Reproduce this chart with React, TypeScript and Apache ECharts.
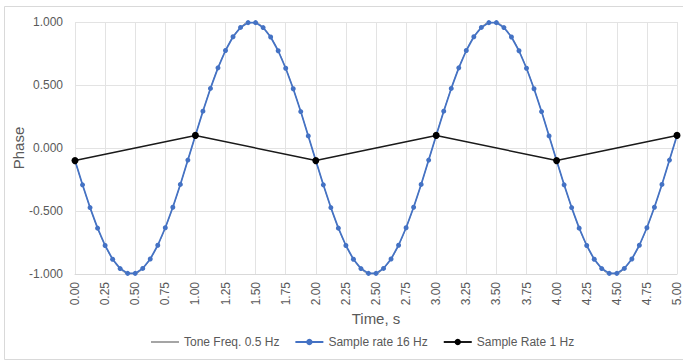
import React, { useEffect, useRef } from "react";
import * as echarts from "echarts";

// Sample times for the 16 Hz series (s)
const sampleTimes16: number[] = Array.from({ length: 81 }, (_, i) => i / 16);
// Values (Sample rate 16 Hz)
const sample16Values: number[] = [
  -0.1, -0.292, -0.473, -0.636, -0.774, -0.883, -0.957, -0.995, -0.995, -0.956, -0.881, -0.772, -0.633, -0.47, -0.289, -0.096,
  0.1, 0.292, 0.473, 0.636, 0.774, 0.883, 0.957, 0.995, 0.995, 0.956, 0.881, 0.772, 0.633, 0.47, 0.289, 0.096,
  -0.1, -0.292, -0.473, -0.636, -0.774, -0.883, -0.957, -0.995, -0.995, -0.956, -0.881, -0.772, -0.633, -0.47, -0.289, -0.096,
  0.1, 0.292, 0.473, 0.636, 0.774, 0.883, 0.957, 0.995, 0.995, 0.956, 0.881, 0.772, 0.633, 0.47, 0.289, 0.096,
  -0.1, -0.292, -0.473, -0.636, -0.774, -0.883, -0.957, -0.995, -0.995, -0.956, -0.881, -0.772, -0.633, -0.47, -0.289, -0.096,
  0.1,
];
// Tone (continuous) drawn beneath, same trace
const toneValues: number[] = sample16Values;

// Sample Rate 1 Hz
const sampleTimes1: number[] = [0, 1, 2, 3, 4, 5];
const sample1Values: number[] = [-0.1, 0.1, -0.1, 0.1, -0.1, 0.1];

const seriesNames = ["Tone Freq. 0.5 Hz", "Sample rate 16 Hz", "Sample Rate 1 Hz"];

export default function App() {
  const ref = useRef<HTMLDivElement>(null);
  useEffect(() => {
    if (!ref.current) return;
    const chart = echarts.init(ref.current, undefined, { renderer: "svg" });
    const font = "'Liberation Sans', Arial, sans-serif";
    chart.setOption({
      animation: false,
      textStyle: { fontFamily: font },
      graphic: [
        {
          type: "rect",
          shape: { x: 4.5, y: 6.5, width: 690, height: 353 },
          style: { fill: "none", stroke: "#d9d9d9", lineWidth: 1 },
          silent: true,
        },
      ],
      grid: { left: 75, right: 6, top: 22, bottom: 87, containLabel: false, outerBoundsMode: "none" },
      legend: {
        left: 145,
        top: 331,
        itemWidth: 28,
        itemHeight: 8,
        itemGap: 15,
        textStyle: { color: "#595959", fontSize: 12, fontFamily: font },
        data: [
          { name: seriesNames[0], itemStyle: { opacity: 0 } },
          { name: seriesNames[1] },
          { name: seriesNames[2] },
        ],
      },
      xAxis: {
        type: "value",
        min: 0,
        max: 5,
        interval: 0.25,
        name: "Time, s",
        nameLocation: "middle",
        nameGap: 37,
        nameMoveOverlap: false,
        nameTextStyle: { color: "#595959", fontSize: 15, fontFamily: font },
        axisLine: { show: true, onZero: false, lineStyle: { color: "#d9d9d9" } },
        axisTick: { show: false },
        axisLabel: {
          rotate: 90,
          margin: 8,
          color: "#595959",
          fontSize: 12,
          formatter: (v: number) => v.toFixed(2),
        },
        splitLine: { show: true, lineStyle: { color: "#e3e3e3" } },
      },
      yAxis: {
        type: "value",
        min: -1,
        max: 1,
        interval: 0.5,
        name: "Phase",
        nameLocation: "middle",
        nameGap: 49,
        nameMoveOverlap: false,
        nameTextStyle: { color: "#595959", fontSize: 15, fontFamily: font },
        axisLine: { show: false },
        axisTick: { show: false },
        axisLabel: {
          color: "#595959",
          fontSize: 12,
          margin: 12,
          formatter: (v: number) => v.toFixed(3),
        },
        splitLine: { show: true, lineStyle: { color: "#e3e3e3" } },
      },
      series: [
        {
          name: seriesNames[0],
          type: "line",
          smooth: true,
          symbol: "none",
          lineStyle: { color: "#a5a5a5", width: 1 },
          itemStyle: { color: "#a5a5a5" },
          data: sampleTimes16.map((t, i) => [t, toneValues[i]]),
          z: 1,
        },
        {
          name: seriesNames[1],
          type: "line",
          symbol: "circle",
          symbolSize: 5,
          lineStyle: { color: "#4472c4", width: 1.75 },
          itemStyle: { color: "#4472c4" },
          data: sampleTimes16.map((t, i) => [t, sample16Values[i]]),
          z: 2,
        },
        {
          name: seriesNames[2],
          type: "line",
          symbol: "circle",
          symbolSize: 7,
          lineStyle: { color: "#1a1a1a", width: 1.5 },
          itemStyle: { color: "#000000" },
          data: sampleTimes1.map((t, i) => [t, sample1Values[i]]),
          z: 3,
        },
      ],
    });
    return () => chart.dispose();
  }, []);
  return (
    <div
      ref={ref}
      style={{ position: "absolute", left: 0, top: 0, width: 683, height: 361, background: "#fff" }}
    />
  );
}
